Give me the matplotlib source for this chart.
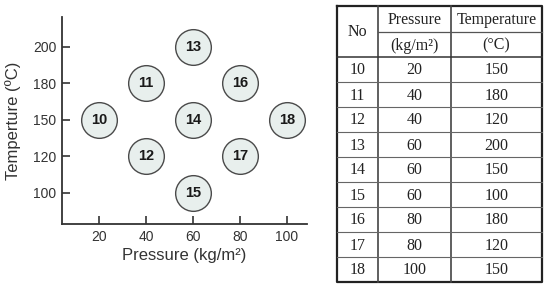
import matplotlib
matplotlib.use("Agg")
import matplotlib.pyplot as plt

# ---- data ----
run_no = [10, 11, 12, 13, 14, 15, 16, 17, 18]
pressure = [20, 40, 40, 60, 60, 60, 80, 80, 100]
temperature = [150, 180, 120, 200, 150, 100, 180, 120, 150]
x_ticks = [20, 40, 60, 80, 100]
temp_levels = [100, 120, 150, 180, 200]
header_top = ["No", "Pressure", "Temperature"]
header_bottom = ["", "(kg/m\u00b2)", "(\u00b0C)"]

W, H = 550, 286
fig = plt.figure(figsize=(5.5, 2.86), dpi=100)

def fx(px):
    return px / W

def fy(py):
    return 1 - py / H

# ---- scatter chart ----
ax = fig.add_axes([fx(62), fy(224), fx(307) - fx(62), fy(17) - fy(224)])
ypos = [temp_levels.index(t) for t in temperature]
ax.scatter(pressure, ypos, s=660, facecolor="#e8efed", edgecolor="#4a4a4a",
           linewidth=1.0, zorder=3, clip_on=False)
for n, x, y in zip(run_no, pressure, ypos):
    ax.text(x, y, str(n), ha="center", va="center", fontsize=10.5,
            fontweight="bold", family="Liberation Sans", color="#1a1a1a", zorder=4)
ax.set_xlim(4.3, 108.5)
ax.set_ylim(-0.85, 4.82)
ax.set_xticks(x_ticks)
ax.set_xticklabels([str(v) for v in x_ticks])
ax.set_yticks(range(len(temp_levels)))
ax.set_yticklabels([str(v) for v in temp_levels])
for s in ["top", "right"]:
    ax.spines[s].set_visible(False)
for s in ["left", "bottom"]:
    ax.spines[s].set_color("#333333")
    ax.spines[s].set_linewidth(1.3)
ax.tick_params(direction="in", length=6, width=1.2, color="#333333",
               labelsize=10, labelcolor="#333333", pad=4)
for lab in ax.get_xticklabels() + ax.get_yticklabels():
    lab.set_family("Liberation Sans")
ax.set_xlabel("Pressure (kg/m\u00b2)", fontsize=12, family="Liberation Sans",
              color="#333333", labelpad=3)
ax.set_ylabel("Temperture (\u00baC)", fontsize=12, family="Liberation Sans",
              color="#333333", labelpad=9)

# ---- table ----
tax = fig.add_axes([0, 0, 1, 1])
tax.set_xlim(0, W)
tax.set_ylim(H, 0)
tax.axis("off")

col_x = [337, 378, 451, 542]
top, mid, hdr_bot = 6, 32, 57
row_h = 25
n_rows = len(run_no)
bottom = hdr_bot + row_h * n_rows

serif = "Liberation Serif"
fs = 11.5
# outer border
tax.plot([col_x[0], col_x[-1], col_x[-1], col_x[0], col_x[0]],
         [top, top, bottom, bottom, top], color="#222222", lw=1.6)
# vertical lines
for cx in col_x[1:-1]:
    tax.plot([cx, cx], [top, bottom], color="#444444", lw=1.2)
# header split line
tax.plot([col_x[1], col_x[-1]], [mid, mid], color="#555555", lw=0.9)
tax.plot([col_x[0], col_x[-1]], [hdr_bot, hdr_bot], color="#333333", lw=1.1)
for i in range(1, n_rows):
    yy = hdr_bot + i * row_h
    tax.plot([col_x[0], col_x[-1]], [yy, yy], color="#666666", lw=0.8)

centers = [(col_x[i] + col_x[i + 1]) / 2 for i in range(3)]
tax.text(centers[0], (top + hdr_bot) / 2, header_top[0], ha="center", va="center",
         fontsize=fs, family=serif, color="#222222")
for i in (1, 2):
    tax.text(centers[i], (top + mid) / 2 + 1, header_top[i], ha="center", va="center",
             fontsize=fs, family=serif, color="#222222")
    tax.text(centers[i], (mid + hdr_bot) / 2 + 1, header_bottom[i], ha="center",
             va="center", fontsize=fs, family=serif, color="#222222")
for r, (n, p, t) in enumerate(zip(run_no, pressure, temperature)):
    cy = hdr_bot + (r + 0.5) * row_h + 1
    tax.text(centers[0], cy, str(n), ha="center", va="center", fontsize=fs,
             family=serif, color="#222222")
    tax.text(centers[1], cy, str(p), ha="center", va="center", fontsize=fs,
             family=serif, color="#222222")
    tax.text(centers[2], cy, str(t), ha="center", va="center", fontsize=fs,
             family=serif, color="#222222")

fig.savefig("out.png", dpi=100)
